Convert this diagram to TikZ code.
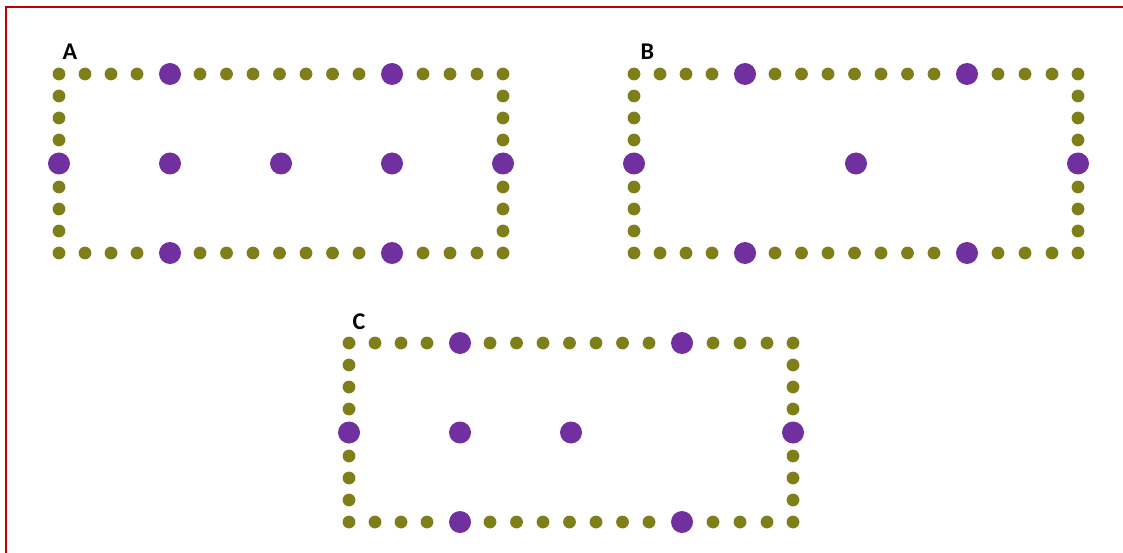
\documentclass[tikz,border=0pt]{standalone}
\usepackage{fontspec}
\setmainfont{Carlito}
\definecolor{dotolive}{RGB}{127,127,26}
\definecolor{dotpurple}{RGB}{112,48,160}
\definecolor{framered}{RGB}{192,0,0}
\tikzset{
  smalldot/.style={fill=dotolive},
  bigdot/.style={fill=dotpurple},
  panellabel/.style={anchor=base west, inner sep=0pt, font=\bfseries\fontsize{24}{24}\selectfont},
}
\newcommand\dotpanel[3]{%
  \begin{scope}[shift={(#1,#2)}]
    \foreach \px in {0,26,52,78,141,167.5,194,220.5,247,273.5,300,364,391,418,444} {
      \fill[smalldot] (\px,0) circle[radius=6.4pt];
      \fill[smalldot] (\px,179) circle[radius=6.4pt];
    }
    \foreach \px in {111,333} {
      \fill[bigdot] (\px,0) circle[radius=11pt];
      \fill[bigdot] (\px,179) circle[radius=11pt];
    }
    \foreach \py in {22,44,66,113,135,157} {
      \fill[smalldot] (0,\py) circle[radius=6.4pt];
      \fill[smalldot] (444,\py) circle[radius=6.4pt];
    }
    \foreach \px in {#3} {
      \fill[bigdot] (\px,89.5) circle[radius=11pt];
    }
  \end{scope}}
\begin{document}
\begin{tikzpicture}[x=1pt,y=-1pt]
  \useasboundingbox (0,0) rectangle (1123,553);
  \draw[framered, line width=2pt] (5.7,553) -- (5.7,7) -- (1123,7);
  \dotpanel{59}{74}{0,111,222,333,444}
  \dotpanel{634}{74}{0,222,444}
  \dotpanel{349}{343}{0,111,222,444}
  \node[panellabel] (lA) at (62.5,60) {A};
  \node[panellabel] (lB) at (640.5,60) {B};
  \node[panellabel] (lC) at (352.5,329.5) {C};
\end{tikzpicture}
\end{document}
